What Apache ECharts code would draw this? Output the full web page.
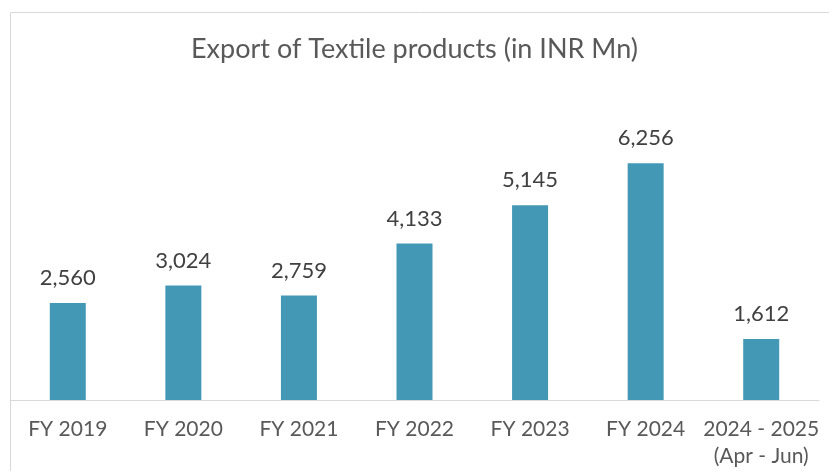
<!DOCTYPE html>
<html>
<head>
<meta charset="utf-8">
<script src="https://cdn.jsdelivr.net/npm/echarts@6/dist/echarts.min.js"></script>
<style>
  html, body { margin: 0; padding: 0; background: #fff; }
  #chart { width: 829px; height: 471px; }
</style>
</head>
<body>
<div id="chart"></div>
<script>
// categories & values
const categories = ["FY 2019", "FY 2020", "FY 2021", "FY 2022", "FY 2023", "FY 2024", "2024 - 2025\n(Apr - Jun)"];
const exportValues = [2560, 3024, 2759, 4133, 5145, 6256, 1612];

const chart = echarts.init(document.getElementById("chart"));
const option = {
  animation: false,
  textStyle: { fontFamily: "Lato" },
  title: {
    text: "Export of Textile products (in INR Mn)",
    left: "center",
    top: 31,
    textStyle: { fontFamily: "Lato", fontSize: 27, fontWeight: "normal", color: "#595959" },
  },
  graphic: [
    {
      type: "rect",
      shape: { x: 10.5, y: 12.5, width: 840, height: 480 },
      style: { fill: "none", stroke: "#d9d9d9", lineWidth: 1 },
      silent: true,
    },
  ],
  grid: { left: 10, right: 10, top: 135, bottom: 71 },
  xAxis: {
    type: "category",
    data: categories,
    axisLine: { lineStyle: { color: "#d9d9d9", width: 1 } },
    axisTick: { show: false },
    axisLabel: {
      color: "#595959",
      fontSize: 21,
      margin: 16,
      lineHeight: 27,
      interval: 0,
    },
  },
  yAxis: {
    type: "value",
    min: 0,
    max: 7000,
    show: false,
    splitLine: { show: false },
  },
  series: [
    {
      type: "bar",
      data: exportValues,
      barWidth: 36,
      itemStyle: { color: "#4398b5" },
      label: {
        show: true,
        position: "top",
        distance: 14,
        color: "#404040",
        fontSize: 22,
        formatter: (p) => p.value.toLocaleString("en-US"),
      },
    },
  ],
};
chart.setOption(option);
</script>
</body>
</html>
